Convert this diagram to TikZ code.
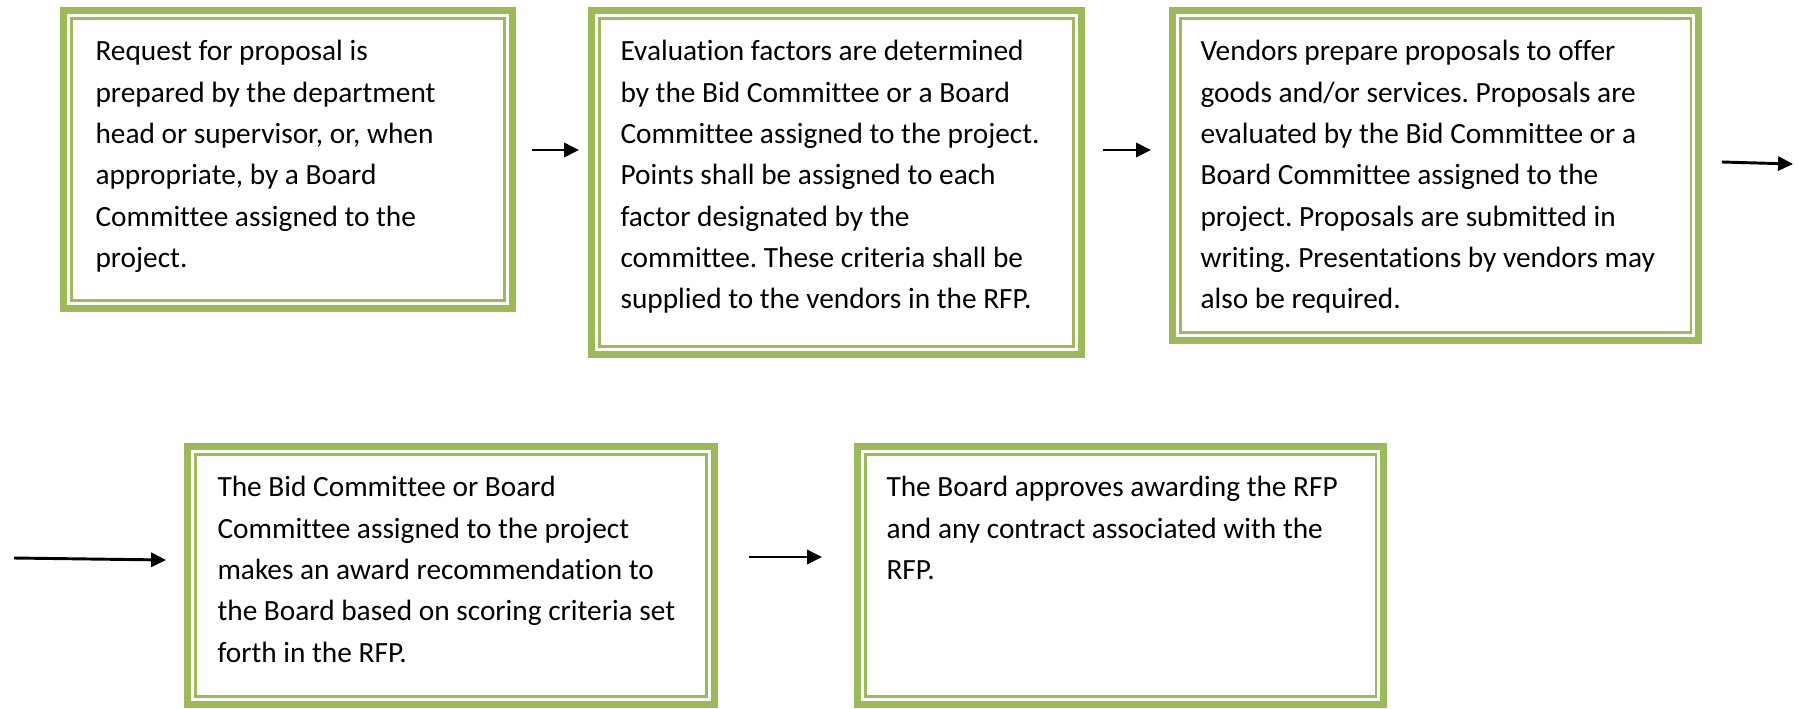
\documentclass[tikz,border=0pt]{standalone}
\usepackage{fontspec}
\setmainfont[Ligatures=NoCommon]{Carlito}
\usetikzlibrary{arrows.meta}
\definecolor{olive}{HTML}{9BBB59}
\frenchspacing
\tikzset{
  outerfr/.style={draw=olive, line width=2.625pt},
  innerfr/.style={draw=olive, line width=0.95pt},
  txt/.style={anchor=north west, align=left, inner sep=0pt,
    font=\fontsize{11pt}{15.5pt}\selectfont},
  arr/.style={draw=black, line width=1.1pt, -{Triangle[length=5.6pt,width=5.3pt]}}
}
\newcommand\frbox[5]{%
  \draw[outerfr] (#2+3.5,#3+3.5) rectangle (#4-3.5,#5-3.5);
  \draw[innerfr] (#2+11.25,#3+11.25) rectangle (#4-11.25,#5-11.25);
  \coordinate (#1) at (#2,#3);}
\begin{document}
\begin{tikzpicture}[x=0.375pt,y=-0.375pt]
\useasboundingbox (0,0) rectangle (1798,708);
\frbox{b1}{60}{7}{516}{312}
\frbox{b2}{588}{7}{1085}{358}
\frbox{b3}{1169}{7}{1702}{344}
\frbox{b4}{184}{443}{718}{708}
\frbox{b5}{854}{443}{1387}{708}
\node[txt] (t1) at (95,40) {Request for proposal is\\prepared by the department\\head or supervisor, or, when\\appropriate, by a Board\\Committee assigned to the\\project.};
\node[txt] (t2) at (620,40) {Evaluation factors are determined\\by the Bid Committee or a Board\\Committee assigned to the project.\\Points shall be assigned to each\\factor designated by the\\committee. These criteria shall be\\supplied to the vendors in the RFP.};
\node[txt] (t3) at (1200,40) {Vendors prepare proposals to offer\\goods and/or services. Proposals are\\evaluated by the Bid Committee or a\\Board Committee assigned to the\\project. Proposals are submitted in\\writing. Presentations by vendors may\\also be required.};
\node[txt] (t4) at (217,476) {The Bid Committee or Board\\Committee assigned to the project\\makes an award recommendation to\\the Board based on scoring criteria set\\forth in the RFP.};
\node[txt] (t5) at (886,476) {The Board approves awarding the RFP\\and any contract associated with the\\RFP.};
\coordinate (a1s) at (532,150); \coordinate (a1e) at (579,150);
\coordinate (a2s) at (1103,150); \coordinate (a2e) at (1151,150);
\coordinate (a3s) at (1722,162); \coordinate (a3e) at (1793,164);
\coordinate (a4s) at (14,558); \coordinate (a4e) at (166,560);
\coordinate (a5s) at (749,557); \coordinate (a5e) at (822,557);
\draw[arr] (a1s) -- (a1e);
\draw[arr] (a2s) -- (a2e);
\draw[arr] (a3s) -- (a3e);
\draw[arr] (a4s) -- (a4e);
\draw[arr] (a5s) -- (a5e);
\end{tikzpicture}
\end{document}
